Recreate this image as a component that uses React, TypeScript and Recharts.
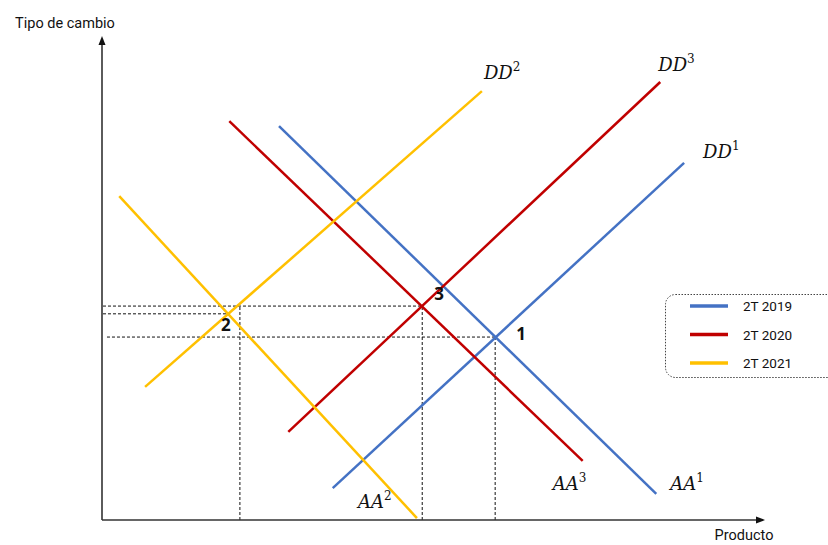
import { ComposedChart, Legend, Line, ReferenceDot, ReferenceLine, XAxis, YAxis } from "recharts";

// AA / DD schedules, endpoints as (product, exchange rate)
const aa1 = [{ x: 26.7, y: 81.4 }, { x: 83.6, y: 5.4 }];
const dd1 = [{ x: 34.8, y: 6.6 }, { x: 87.8, y: 73.8 }];
const aa2 = [{ x: 2.6, y: 66.9 }, { x: 47.5, y: 0.4 }];
const dd2 = [{ x: 6.5, y: 27.5 }, { x: 57.3, y: 88.6 }];
const aa3 = [{ x: 19.2, y: 82.4 }, { x: 72.5, y: 12.2 }];
const dd3 = [{ x: 28.1, y: 18.2 }, { x: 84.2, y: 90.5 }];

// equilibria 1, 2, 3
const equilibria = [
  { id: "1", x: 59.3, y: 37.8 },
  { id: "2", x: 19.0, y: 42.6 },
  { id: "3", x: 48.3, y: 44.2 },
];

// dotted guides to the axes
const hGuides = [
  { y: 44.2, from: 0.15, to: 48.3 },
  { y: 42.6, from: 0.15, to: 19.0 },
  { y: 37.8, from: 0.75, to: 59.3 },
];
const vGuides = [
  { x: 20.8, to: 44.2 },
  { x: 48.3, to: 44.2 },
  { x: 59.3, to: 37.8 },
];

const periods = ["2T 2019", "2T 2020", "2T 2021"];
const colors = ["#4472C4", "#C00000", "#FFC000"];

const curves = [
  { name: "AA", idx: "1", data: aa1, color: colors[0], dx: 14, dy: -4 },
  { name: "DD", idx: "1", data: dd1, color: colors[0], dx: 19, dy: -5 },
  { name: "AA", idx: "3", data: aa3, color: colors[1], dx: -30, dy: 29 },
  { name: "DD", idx: "3", data: dd3, color: colors[1], dx: -2, dy: -11 },
  { name: "AA", idx: "2", data: aa2, color: colors[2], dx: -59, dy: -10 },
  { name: "DD", idx: "2", data: dd2, color: colors[2], dx: 2, dy: -12 },
];

const numOffset: Record<string, [number, number]> = {
  "1": [26, 3],
  "2": [-2, 17],
  "3": [17, -6],
};

const ink = "#111";

const renderLegend = () => (
  <svg width={170} height={86}>
    <rect x={0.5} y={0.5} width={220} height={83} rx={10} fill="none" stroke="#444" strokeDasharray="1.5 1.5" />
    {periods.map((p, i) => (
      <g key={p}>
        <line x1={25} x2={63} y1={12 + i * 28.5} y2={12 + i * 28.5} stroke={colors[i]} strokeWidth={3.5} />
        <text x={78} y={17 + i * 28.5} fontSize={13.5} fontFamily="Roboto" fill={ink}>
          {p}
        </text>
      </g>
    ))}
  </svg>
);

export default function App() {
  return (
    <div style={{ position: "absolute", left: 0, top: 0, width: 828, height: 545, overflow: "hidden", background: "#fff" }}>
      <ComposedChart width={828} height={545} margin={{ top: 36, right: 63, bottom: 25, left: 102 }}>
        <XAxis type="number" dataKey="x" domain={[0, 100]} hide allowDataOverflow />
        <YAxis type="number" dataKey="y" domain={[0, 100]} hide allowDataOverflow />

        {hGuides.map((g, i) => (
          <ReferenceLine
            key={"h" + i}
            segment={[{ x: g.from, y: g.y }, { x: g.to, y: g.y }]}
            stroke="#111"
            strokeDasharray="3 2"
            ifOverflow="visible"
          />
        ))}
        {vGuides.map((g, i) => (
          <ReferenceLine
            key={"v" + i}
            segment={[{ x: g.x, y: 0 }, { x: g.x, y: g.to }]}
            stroke="#111"
            strokeDasharray="3 2"
            ifOverflow="visible"
          />
        ))}

        {curves.map((c) => (
          <Line
            key={c.name + c.idx}
            data={c.data}
            dataKey="y"
            type="linear"
            stroke={c.color}
            strokeWidth={2.5}
            dot={false}
            activeDot={false}
            isAnimationActive={false}
            legendType="none"
          />
        ))}

        {/* axes with arrow heads */}
        <ReferenceLine segment={[{ x: 0, y: 0 }, { x: 0, y: 98.5 }]} stroke="#333" strokeWidth={1.6} ifOverflow="visible" />
        <ReferenceLine segment={[{ x: 0, y: 0 }, { x: 99, y: 0 }]} stroke="#333" strokeWidth={1.6} ifOverflow="visible" />
        <ReferenceDot
          x={0}
          y={100}
          ifOverflow="visible"
          shape={(p: any) => (
            <g>
              <polygon points={`${p.cx},${p.cy} ${p.cx - 3.5},${p.cy + 9} ${p.cx + 3.5},${p.cy + 9}`} fill="#111" />
              <text x={p.cx - 37} y={p.cy - 8} textAnchor="middle" fontSize={14.5} fontFamily="Roboto" fill={ink}>
                Tipo de cambio
              </text>
            </g>
          )}
        />
        <ReferenceDot
          x={100}
          y={0}
          ifOverflow="visible"
          shape={(p: any) => (
            <g>
              <polygon points={`${p.cx},${p.cy} ${p.cx - 9},${p.cy - 3.5} ${p.cx - 9},${p.cy + 3.5}`} fill="#111" />
              <text x={p.cx - 21} y={p.cy + 20} textAnchor="middle" fontSize={14.5} fontFamily="Roboto" fill={ink}>
                Producto
              </text>
            </g>
          )}
        />

        {/* schedule names at the line ends */}
        {curves.map((c) => (
          <ReferenceDot
            key={"l" + c.name + c.idx}
            x={c.data[1].x}
            y={c.data[1].y}
            ifOverflow="visible"
            shape={(p: any) => (
              <text x={p.cx + c.dx} y={p.cy + c.dy} fontSize={18} fontFamily="DejaVu Serif" fontStyle="italic" fill={ink}>
                {c.name}
                <tspan dy={-8} fontSize={12} fontStyle="normal">
                  {c.idx}
                </tspan>
              </text>
            )}
          />
        ))}

        {equilibria.map((e) => (
          <ReferenceDot
            key={"e" + e.id}
            x={e.x}
            y={e.y}
            ifOverflow="visible"
            shape={(p: any) => (
              <text
                x={p.cx + numOffset[e.id][0]}
                y={p.cy + numOffset[e.id][1]}
                textAnchor="middle"
                fontSize={17}
                fontWeight="bold"
                fontFamily="Open Sans"
                fill="#111"
              >
                {e.id}
              </text>
            )}
          />
        ))}

        <Legend
          layout="vertical"
          align="center"
          verticalAlign="middle"
          content={renderLegend}
          wrapperStyle={{ left: 665, top: 294, width: 170, height: 86 }}
        />
      </ComposedChart>
    </div>
  );
}
